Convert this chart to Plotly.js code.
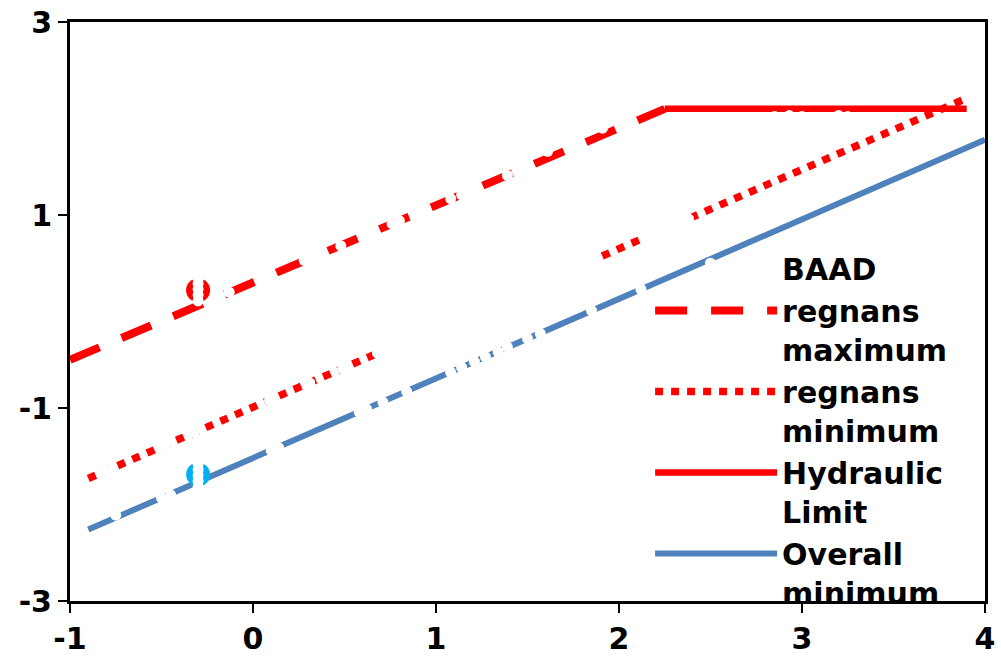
<!DOCTYPE html>
<html>
<head>
<meta charset="utf-8">
<script src="https://cdn.plot.ly/plotly-3.0.1.min.js"></script>
<style>html,body{margin:0;padding:0;background:#fff;}#chart{width:1001px;height:663px;}</style>
</head>
<body>
<div id="chart"></div>
<script>
// ---- data ----
const maxX = [-1, 2.25];
const maxY = [-0.5, 2.1];
const minX = [-0.9, 3.9];
const minY = [-1.73, 2.21];
const hydX = [2.25, 3.9];
const hydY = [2.1, 2.1];
const overallX = [-0.9, 4];
const overallY = [-2.26, 1.78];

const regnansObsX = [-0.3];
const regnansObsY = [0.22];
const otherObsX = [-0.3];
const otherObsY = [-1.69];

const baadX = [-0.13, 0.28, 0.48, 0.76, 0.80, 1.08, 1.14, 1.39, 1.61, 1.91,
  2.85, 2.93, 3.00, 3.20, 3.25,
  -0.30, -0.30, -0.30, -0.30, -0.30,
  -0.30, -0.30, -0.30, -0.30, -0.30,
  -0.80, -0.48, -0.32, 0.09, 0.31, 0.49,
  0.68, 0.71, 0.74, 0.77, 0.80, 0.83, 0.86, 0.89, 0.92, 0.95, 0.98, 1.01, 1.04, 1.07, 1.10, 1.13, 1.16, 1.19, 1.22, 1.25,
  1.28, 1.31, 1.34, 1.37, 1.40, 1.43, 1.46, 1.49, 1.52, 1.55, 1.58, 1.61, 1.64, 1.67, 1.70, 1.73, 1.76, 1.79, 1.82, 1.85, 1.88,
  2.14, 2.17, 2.20, 2.23, 2.26, 2.29, 2.32, 2.35, 2.38,
  -0.75, -0.50, -0.45, 0.10, 0.14, 0.58, 0.62, 0.71, 0.84, 1.08, 1.14, 1.21, 1.27, 1.34, 1.39, 1.50, 1.57, 1.85, 2.12, 2.50];
const baadY = [0.20, 0.53, 0.68, 0.91, 0.94, 1.17, 1.21, 1.41, 1.66, 1.90,
  2.02, 2.03, 2.02, 2.03, 2.02,
  0.11, 0.17, 0.23, 0.29, 0.34,
  -1.82, -1.76, -1.70, -1.64, -1.58,
  -1.65, -1.38, -1.25, -0.92, -0.74, -0.59,
  -0.43, -0.41, -0.38, -0.36, -0.33, -0.31, -0.29, -0.26, -0.24, -0.21, -0.19, -0.16, -0.14, -0.11, -0.09, -0.06, -0.04, -0.01, 0.01, 0.04,
  0.06, 0.09, 0.11, 0.13, 0.16, 0.18, 0.21, 0.23, 0.26, 0.28, 0.31, 0.33, 0.36, 0.38, 0.41, 0.43, 0.45, 0.48, 0.50, 0.53, 0.55,
  0.77, 0.79, 0.82, 0.84, 0.87, 0.89, 0.91, 0.94, 0.96,
  -2.11, -1.93, -1.90, -1.44, -1.41, -1.04, -1.01, -0.94, -0.83, -0.63, -0.58, -0.52, -0.47, -0.42, -0.37, -0.28, -0.23, 0.01, 0.23, 0.50];

const names = ['BAAD', 'regnans<br>maximum', 'regnans<br>minimum', 'Hydraulic<br>Limit', 'Overall<br>minimum'];

const xTickVals = [-1, 0, 1, 2, 3, 4];
const xTickText = ['-1', '0', '1', '2', '3', '4'];
const yTickVals = [-3, -1, 1, 3];
const yTickText = ['-3', '-1', '1', '3'];

const RED = '#FF0000';
const BLUE = '#4F81BD';

const traces = [
  {x: maxX, y: maxY, mode: 'lines', name: names[1], legendrank: 2,
   line: {color: RED, width: 8, dash: '32px,24px'}},
  {x: minX, y: minY, mode: 'lines', name: names[2], legendrank: 3,
   line: {color: RED, width: 7.5, dash: '8px,8px'}},
  {x: hydX, y: hydY, mode: 'lines', name: names[3], legendrank: 4,
   line: {color: RED, width: 6.5}},
  {x: overallX, y: overallY, mode: 'lines', name: names[4], legendrank: 5,
   line: {color: BLUE, width: 6}},
  {x: regnansObsX, y: regnansObsY, mode: 'markers', showlegend: false,
   marker: {color: RED, size: 24, line: {width: 0}}},
  {x: otherObsX, y: otherObsY, mode: 'markers', showlegend: false,
   marker: {color: '#00B0F0', size: 24, line: {width: 0}}},
  {x: baadX, y: baadY, mode: 'markers', name: names[0], legendrank: 1,
   marker: {color: '#FFFFFF', size: 11, line: {width: 0}}}
];

const tickFont = {family: 'DejaVu Sans', size: 30, color: '#000', weight: 700};

const layout = {
  width: 1001, height: 663,
  margin: {l: 70, r: 16, t: 22, b: 62, pad: 0},
  paper_bgcolor: '#fff', plot_bgcolor: '#fff',
  showlegend: true,
  legend: {
    x: 0.634, y: 0.619, xanchor: 'left', yanchor: 'top',
    bgcolor: 'rgba(0,0,0,0)', borderwidth: 0,
    itemwidth: 122, valign: 'top', tracegroupgap: 0,
    font: {family: 'DejaVu Sans', size: 30, color: '#000', weight: 700}
  },
  xaxis: {
    range: [-1, 4], tickmode: 'array', tickvals: xTickVals, ticktext: xTickText,
    showgrid: false, zeroline: false,
    showline: true, linecolor: '#000', linewidth: 3, mirror: true,
    ticks: 'outside', ticklen: 9, tickwidth: 2, tickcolor: '#000',
    tickfont: tickFont
  },
  yaxis: {
    range: [-3, 3], tickmode: 'array', tickvals: yTickVals, ticktext: yTickText,
    showgrid: false, zeroline: false,
    showline: true, linecolor: '#000', linewidth: 3, mirror: true,
    ticks: 'outside', ticklen: 9, tickwidth: 2, tickcolor: '#000',
    tickfont: tickFont
  }
};

Plotly.newPlot('chart', traces, layout, {displayModeBar: false, staticPlot: true});
</script>
</body>
</html>
